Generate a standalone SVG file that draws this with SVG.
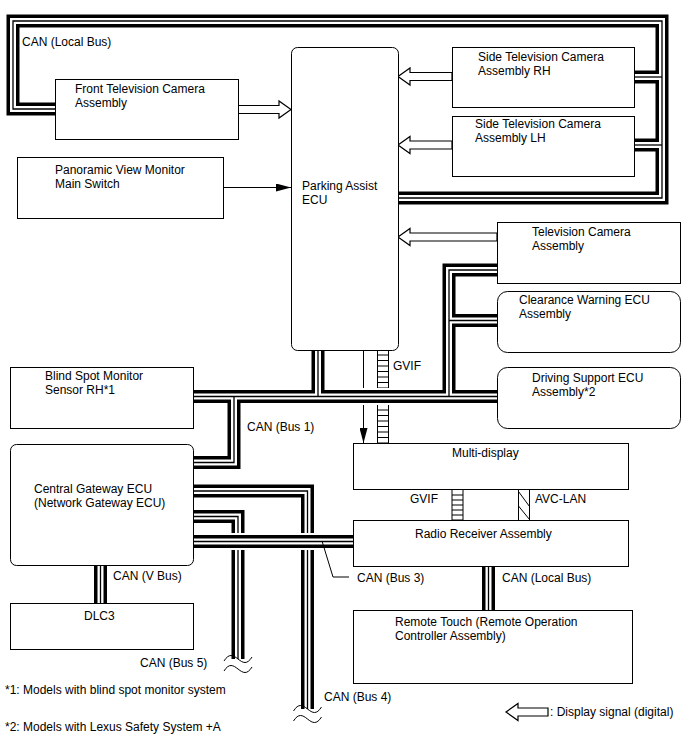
<svg xmlns="http://www.w3.org/2000/svg" width="688" height="755" viewBox="0 0 688 755">
<style>
.box{fill:#fff;stroke:#000;stroke-width:1}
text{font-family:"Liberation Sans",Arial,sans-serif;font-size:12px;fill:#000}
.halo{fill:none;stroke:#fff;stroke-width:17}
.cb{fill:none;stroke:#000;stroke-width:13;stroke-linejoin:miter}
.cw{fill:none;stroke:#fff;stroke-width:6;stroke-linejoin:miter}
.cc{fill:none;stroke:#000;stroke-width:1.3;stroke-linejoin:miter}
.sig{fill:#fff;stroke:#000;stroke-width:1.2;stroke-linejoin:miter}
.ln{fill:none;stroke:#000;stroke-width:1}
.rung{fill:none;stroke:#000;stroke-width:11}
</style>
<defs>
<marker id="ah" viewBox="0 0 15 8" refX="15" refY="4" markerWidth="15" markerHeight="8" markerUnits="userSpaceOnUse" orient="auto"><path d="M0,0 L15,4 L0,8 Z" fill="#000"/></marker>
<g id="busA">
<path d="M58 109 H13 V21 H662 V198 H395"/>
<path d="M631 77 H662"/>
<path d="M631 145 H662"/>
<path d="M190 396.5 H500"/>
<path d="M318 347 V396.5"/>
<path d="M234 396.5 V462.5 H190"/>
<path d="M500 270 H449 V396.5"/>
<path d="M500 320.5 H449"/>
<path d="M190 491 H307.5 V709"/>
<path d="M190 516.5 H238 V659"/>
<path d="M100.5 562 V606"/>
<path d="M488.5 563 V613"/>
</g>
<g id="busB">
<path d="M190 541.5 H356"/>
</g>
</defs>

<g id="connectors">
<path class="ln" d="M223.5 187.5 H291" marker-end="url(#ah)"/>
<path class="ln" d="M363.5 350 V443" marker-end="url(#ah)"/>
<path class="ln" d="M377.5 350 V443 M388.5 350 V443"/>
<path class="rung" d="M383 354.5 V443" stroke-dasharray="1 4.5"/>
<path class="ln" d="M452 489 V520 M463 489 V520"/>
<path class="rung" d="M457.5 494.5 V520" stroke-dasharray="1 4"/>
<path class="ln" d="M518.5 489 V520 M529.5 489 V520 M518.5 491.5 L529.5 506.5 M518.5 506 L529.5 519.5"/>

<use href="#busA" class="halo"/>
<use href="#busA" class="cb"/>
<use href="#busA" class="cw"/>
<use href="#busA" class="cc"/>

<use href="#busB" class="halo"/>
<use href="#busB" class="cb"/>
<use href="#busB" class="cw"/>
<use href="#busB" class="cc"/>

<path class="ln" d="M322 541 L333 577 H349"/>
<path class="ln" d="M224 661 C229 653 233 655 238 659 S247 665 252 657 M224 671 C229 663 233 665 238 669 S247 675 252 667"/>
<path class="ln" d="M293.5 711 C298.5 703 302.5 705 307.5 709 S316.5 715 321.5 707 M293.5 721 C298.5 713 302.5 715 307.5 719 S316.5 725 321.5 717"/>

<polygon class="sig" points="238,105.5 279,105.5 279,101 291,109.5 279,118 279,113.5 238,113.5"/>
<polygon class="sig" points="398,76.5 410,68 410,72.5 452,72.5 452,80.5 410,80.5 410,85"/>
<polygon class="sig" points="398,145 410,136.5 410,141 452,141 452,149 410,149 410,153.5"/>
<polygon class="sig" points="398,237 410,228.5 410,233 497,233 497,241 410,241 410,245.5"/>

<text x="22" y="46">CAN (Local Bus)</text>
<text x="393" y="370">GVIF</text>
<text x="247" y="431">CAN (Bus 1)</text>
<text x="410" y="503">GVIF</text>
<text x="535" y="503">AVC-LAN</text>
<text x="357" y="582">CAN (Bus 3)</text>
<text x="502" y="582">CAN (Local Bus)</text>
<text x="113" y="580">CAN (V Bus)</text>
<text x="140" y="667">CAN (Bus 5)</text>
<text x="324" y="701">CAN (Bus 4)</text>
</g>

<g id="front-camera"><rect class="box" x="55.5" y="79.5" width="183" height="60"/><text x="75" y="93">Front Television Camera</text><text x="75" y="107">Assembly</text></g>
<g id="parking-assist-ecu"><rect class="box" x="291.5" y="47.5" width="107" height="303" rx="6"/><text x="302" y="190">Parking Assist</text><text x="302" y="204">ECU</text></g>
<g id="side-camera-rh"><rect class="box" x="452.5" y="47.5" width="182" height="60"/><text x="478" y="61">Side Television Camera</text><text x="478" y="75">Assembly RH</text></g>
<g id="side-camera-lh"><rect class="box" x="452.5" y="116.5" width="182" height="60"/><text x="475" y="128">Side Television Camera</text><text x="475" y="142">Assembly LH</text></g>
<g id="pvm-switch"><rect class="box" x="17.5" y="157.5" width="206" height="61"/><text x="55" y="174">Panoramic View Monitor</text><text x="55" y="188">Main Switch</text></g>
<g id="tv-camera"><rect class="box" x="497.5" y="222.5" width="183" height="61"/><text x="532" y="236">Television Camera</text><text x="532" y="250">Assembly</text></g>
<g id="clearance-warning-ecu"><rect class="box" x="497.5" y="291.5" width="183" height="61" rx="10"/><text x="519" y="304">Clearance Warning ECU</text><text x="519" y="318">Assembly</text></g>
<g id="driving-support-ecu"><rect class="box" x="497.5" y="367.5" width="183" height="61" rx="10"/><text x="532" y="382">Driving Support ECU</text><text x="532" y="396">Assembly*2</text></g>
<g id="blind-spot-sensor"><rect class="box" x="10.5" y="367.5" width="183" height="61"/><text x="45" y="380">Blind Spot Monitor</text><text x="45" y="394">Sensor RH*1</text></g>
<g id="central-gateway-ecu"><rect class="box" x="10.5" y="444.5" width="183" height="121" rx="6"/><text x="34" y="493">Central Gateway ECU</text><text x="34" y="507">(Network Gateway ECU)</text></g>
<g id="dlc3"><rect class="box" x="10.5" y="603.5" width="183" height="46"/><text x="84" y="620">DLC3</text></g>
<g id="multi-display"><rect class="box" x="353.5" y="443.5" width="275" height="46"/><text x="452" y="457">Multi-display</text></g>
<g id="radio-receiver"><rect class="box" x="353.5" y="520.5" width="275" height="46"/><text x="415" y="538">Radio Receiver Assembly</text></g>
<g id="remote-touch"><rect class="box" x="353.5" y="610.5" width="279" height="73"/><text x="395" y="626">Remote Touch (Remote Operation</text><text x="395" y="640">Controller Assembly)</text></g>

<g id="notes">
<text x="5" y="694">*1: Models with blind spot monitor system</text>
<text x="5" y="731">*2: Models with Lexus Safety System +A</text>
<polygon class="sig" points="506,712 518,703.5 518,708 548,708 548,716 518,716 518,720.5"/>
<text x="550" y="716">: Display signal (digital)</text>
</g>
</svg>
